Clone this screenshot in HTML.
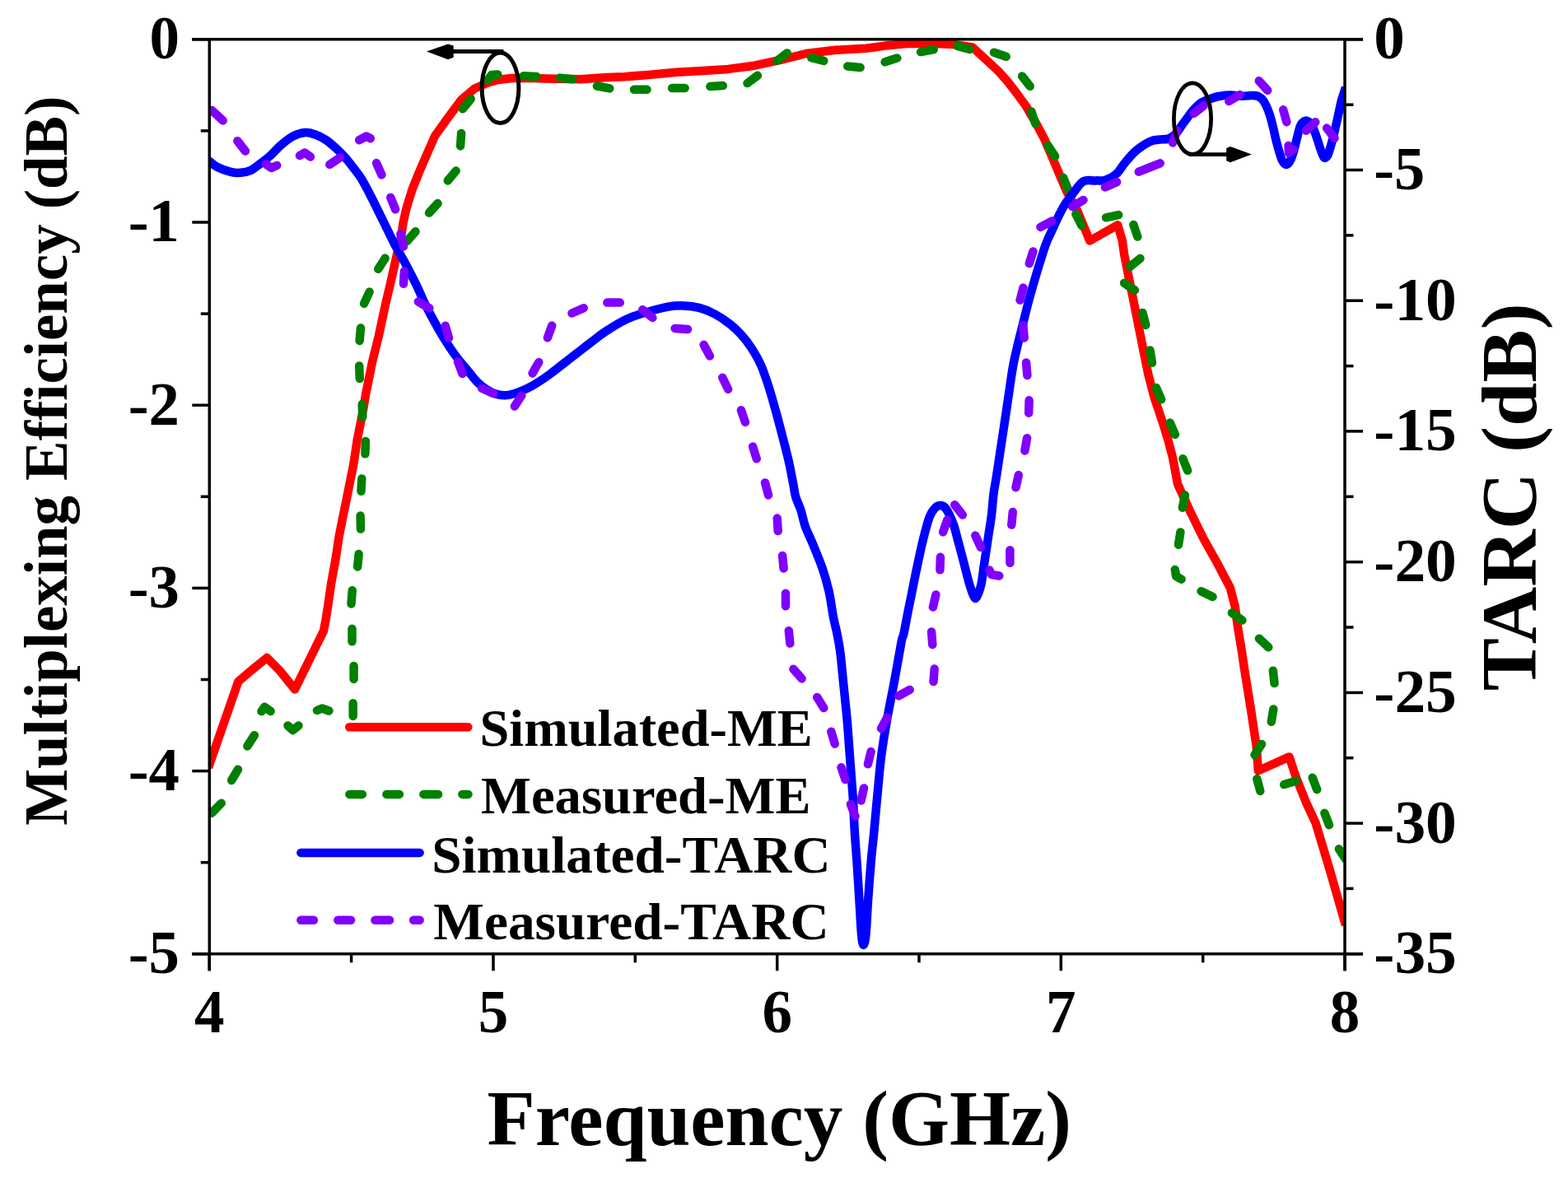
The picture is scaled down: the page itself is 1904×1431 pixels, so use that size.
<!DOCTYPE html>
<html><head><meta charset="utf-8"><title>Multiplexing Efficiency and TARC</title>
<style>html,body{margin:0;padding:0;background:#fff;}svg{display:block;}</style></head>
<body><svg width="1904" height="1431" viewBox="0 0 1904 1431"><defs><clipPath id="pa"><rect x="254.3" y="47.8" width="1378.7" height="1111.0"/></clipPath></defs><g clip-path="url(#pa)"><path d="M253.0,932.5 L289.3,828.0 L305.4,814.1 L324.1,799.0 L339.3,814.1 L358.0,837.5 L392.9,766.5 L395.5,753.4 L398.2,736.0 L402.3,707.9 L407.3,680.8 L411.7,651.5 L416.1,629.4 L420.6,607.4 L425.0,585.4 L429.4,563.4 L433.8,534.0 L438.2,512.0 L441.5,495.0 L444.1,479.1 L452.2,438.9 L460.2,406.7 L467.0,374.5 L474.5,342.4 L482.5,307.0 L487.0,288.0 L489.6,270.5 L493.0,255.0 L496.5,243.0 L500.7,229.8 L508.7,209.8 L518.5,187.0 L528.2,165.0 L544.3,142.5 L560.4,121.0 L576.4,107.5 L592.5,100.5 L605.0,97.0 L621.0,95.0 L640.0,94.8 L663.0,95.5 L705.0,96.2 L737.0,94.0 L758.0,93.2 L790.0,90.7 L821.5,87.8 L853.0,86.0 L884.5,83.9 L916.0,79.7 L947.6,72.8 L979.1,65.0 L1014.7,60.8 L1051.6,58.8 L1074.7,55.6 L1103.6,52.8 L1141.8,53.2 L1158.0,54.0 L1181.0,57.5 L1200.0,75.0 L1212.4,86.5 L1223.5,99.0 L1234.7,113.5 L1245.9,129.0 L1257.1,148.0 L1268.3,169.0 L1274.7,184.0 L1285.0,208.4 L1295.0,232.0 L1308.4,256.4 L1315.8,274.5 L1323.3,292.5 L1357.2,273.3 L1362.7,292.1 L1365.2,309.4 L1371.0,338.6 L1376.9,367.7 L1382.7,396.9 L1388.5,426.0 L1394.4,455.2 L1402.1,484.3 L1411.9,513.5 L1418.5,535.0 L1424.0,556.0 L1430.0,588.0 L1446.0,623.0 L1461.5,654.5 L1478.0,684.0 L1494.0,714.5 L1499.7,736.9 L1502.9,761.0 L1507.7,790.0 L1511.0,812.4 L1519.4,864.9 L1525.7,906.8 L1527.8,936.2 L1565.5,919.4 L1573.9,944.6 L1586.5,976.1 L1597.5,999.5 L1614.5,1056.0 L1634.0,1124.0" fill="none" stroke="#ff0000" stroke-width="10.5" stroke-linejoin="round"/><path d="M257.1,987.7 L268.8,975.7 M281.1,948.0 L289.0,934.7 M300.4,906.4 L308.9,893.2 M317.5,864.1 L321.3,858.8 L328.6,864.0 M349.5,881.5 L355.7,887.0 L362.5,881.5 M385.0,863.0 L391.0,860.5 L399.4,863.5 M428.7,869.9 L428.7,854.2 M429.6,824.9 L429.6,808.9 M427.5,779.2 L427.5,763.7 M426.5,733.5 L427.8,717.3 M434.2,688.5 L435.6,673.1 M438.0,642.6 L437.6,626.6 M438.5,596.8 L439.3,581.4 M443.4,551.3 L443.9,535.9 M440.3,506.5 L439.7,491.1 M436.8,459.9 L436.2,444.4 M436.6,414.0 L438.0,398.6 M442.1,368.7 L448.6,354.6 M459.3,326.8 L467.6,313.7 M494.2,293.0 L504.5,281.3 M521.0,258.6 L531.5,247.1 M543.8,219.4 L553.7,207.5 M559.1,177.4 L560.1,161.9 M561.9,132.3 L571.7,120.2 M592.1,97.4 L597.0,91.0 L604.4,90.4 M635.9,92.2 L651.3,92.9 M680.0,94.6 L695.4,96.2 M724.9,104.5 L740.3,107.4 M770.0,108.8 L785.5,108.8 M816.1,107.0 L831.6,107.0 M862.4,105.1 L877.8,104.1 M907.5,101.1 L919.9,91.8 M943.5,73.9 L955.8,64.4 M985.2,70.2 L1000.3,73.9 M1029.2,80.5 L1044.6,82.0 M1074.6,75.3 L1089.3,70.6 M1118.1,63.1 L1133.7,60.2 M1162.6,55.9 L1177.5,59.9 M1207.0,63.8 L1221.7,68.8 M1241.1,92.6 L1250.7,104.8 M1252.4,135.5 L1257.3,150.2 M1272.6,176.9 L1281.1,189.9 M1291.2,215.9 L1297.0,230.3 M1306.4,260.2 L1313.4,274.0 M1343.1,264.3 L1358.2,261.1 M1376.4,273.0 L1381.3,287.6 M1384.5,314.0 L1372.5,323.7 M1365.1,343.8 L1377.9,352.4 M1387.4,379.9 L1391.3,394.9 M1396.5,425.5 L1399.0,440.8 M1403.9,470.9 L1410.1,485.2 M1420.7,513.6 L1426.9,527.9 M1436.4,557.2 L1442.1,571.6 M1438.9,601.4 L1435.9,616.7 M1433.4,646.4 L1431.0,661.7 M1426.8,692.0 L1428.1,699.9 L1434.6,703.7 M1458.6,718.3 L1472.5,724.9 M1495.9,744.4 L1508.4,753.5 M1528.9,775.7 L1540.3,786.3 M1545.8,814.7 L1547.5,830.1 M1546.3,861.4 L1543.8,876.7 M1532.0,904.0 L1523.5,917.0 M1526.3,946.1 L1530.3,961.0 M1559.2,953.1 L1574.0,948.6 M1593.7,944.7 L1599.2,959.2 M1608.4,987.7 L1613.9,1002.2 M1625.8,1031.3 L1634.4,1044.2" fill="none" stroke="#008000" stroke-width="10.5" stroke-linejoin="round" stroke-linecap="round"/><path d="M250.0,192.5 C250.8,193.1 252.4,194.5 254.8,196.3 C257.2,198.1 260.3,201.2 264.5,203.3 C268.7,205.4 275.6,207.8 280.2,208.9 C284.8,210.0 288.3,210.1 292.3,209.8 C296.3,209.5 300.4,208.9 304.4,207.0 C308.4,205.1 312.4,201.5 316.4,198.5 C320.4,195.5 324.5,192.5 328.5,188.9 C332.5,185.3 336.2,180.6 340.6,176.8 C345.0,173.0 350.1,168.5 355.1,165.9 C360.1,163.3 366.2,161.5 370.8,161.1 C375.4,160.7 378.9,162.1 382.9,163.5 C386.9,164.9 391.0,166.9 395.0,169.5 C399.0,172.1 403.0,175.6 407.0,179.2 C411.0,182.8 415.5,187.3 419.1,191.3 C422.7,195.3 425.6,199.2 428.8,203.4 C432.0,207.6 434.6,210.2 438.5,216.6 C442.4,223.0 447.8,233.4 452.2,242.0 C456.6,250.6 460.4,258.8 465.0,268.0 C469.6,277.2 474.9,288.6 479.5,297.3 C484.1,306.1 488.0,312.2 492.4,320.5 C496.8,328.8 502.2,339.2 506.0,347.0 C509.8,354.8 512.1,360.9 515.0,367.0 C517.9,373.1 520.2,377.4 523.5,383.5 C526.8,389.6 531.0,397.3 534.7,403.7 C538.4,410.1 542.2,416.0 545.9,421.6 C549.6,427.2 553.4,432.4 557.1,437.2 C560.8,442.0 564.6,446.1 568.3,450.6 C572.0,455.1 575.7,460.3 579.4,464.0 C583.1,467.7 586.9,470.6 590.6,473.0 C594.3,475.4 598.1,477.4 601.8,478.6 C605.5,479.8 609.3,480.4 613.0,480.3 C616.7,480.2 620.5,479.2 624.2,478.2 C627.9,477.1 631.6,475.6 635.3,474.0 C639.0,472.4 642.8,470.6 646.5,468.5 C650.2,466.4 654.0,464.0 657.7,461.5 C661.5,459.0 664.4,457.0 669.0,453.6 C673.6,450.2 680.0,445.0 685.2,441.0 C690.4,437.0 694.4,433.8 700.0,429.5 C705.6,425.2 712.8,419.5 718.7,415.0 C724.6,410.5 728.6,407.0 735.6,402.5 C742.6,398.0 752.4,391.7 760.8,387.8 C769.2,383.9 777.7,381.5 786.1,379.0 C794.5,376.5 803.9,373.9 811.3,372.6 C818.6,371.3 823.9,371.2 830.2,371.4 C836.5,371.6 842.8,372.2 849.1,373.9 C855.4,375.6 861.7,378.1 868.0,381.5 C874.3,384.9 881.6,389.9 886.9,394.1 C892.2,398.3 895.8,401.9 900.0,406.5 C904.2,411.1 908.0,415.8 912.0,422.0 C916.0,428.2 920.4,435.3 924.0,443.5 C927.6,451.7 930.8,461.6 933.8,471.0 C936.8,480.4 939.4,489.9 942.2,500.0 C945.0,510.1 948.0,521.8 950.6,531.8 C953.2,541.8 955.5,550.4 957.6,559.7 C959.7,569.0 961.8,580.4 963.2,587.6 C964.6,594.8 964.5,597.6 966.0,603.0 C967.5,608.4 970.5,613.8 972.5,620.0 C974.5,626.2 975.5,633.0 978.0,640.0 C980.5,647.0 984.1,653.7 987.5,662.0 C990.9,670.3 995.3,680.7 998.5,690.0 C1001.7,699.3 1004.2,708.0 1006.5,718.0 C1008.8,728.0 1010.3,741.3 1012.0,750.0 C1013.7,758.7 1015.2,763.3 1016.5,770.0 C1017.8,776.7 1019.0,783.0 1020.0,790.0 C1021.0,797.0 1021.5,803.2 1022.4,812.2 C1023.3,821.2 1024.5,833.6 1025.6,844.3 C1026.7,855.0 1027.9,865.8 1028.8,876.5 C1029.7,887.2 1030.4,898.0 1031.2,908.7 C1032.0,919.4 1032.8,930.1 1033.6,940.8 C1034.4,951.5 1035.3,961.5 1036.0,973.0 C1036.7,984.5 1037.0,997.6 1037.8,1010.0 C1038.5,1022.4 1039.5,1033.3 1040.5,1047.5 C1041.5,1061.7 1042.6,1080.4 1043.5,1095.0 C1044.4,1109.6 1045.2,1126.2 1046.0,1135.0 C1046.8,1143.8 1047.6,1148.0 1048.5,1148.0 C1049.4,1148.0 1050.6,1143.8 1051.5,1135.0 C1052.4,1126.2 1053.0,1109.6 1054.0,1095.0 C1055.0,1080.4 1056.4,1061.7 1057.6,1047.5 C1058.8,1033.3 1060.1,1023.8 1061.4,1009.8 C1062.7,995.8 1064.1,979.1 1065.6,963.8 C1067.1,948.5 1068.2,933.2 1070.2,917.9 C1072.2,902.6 1074.8,887.2 1077.5,871.9 C1080.2,856.6 1083.5,841.3 1086.3,826.0 C1089.1,810.7 1092.7,789.4 1094.5,780.0 C1096.3,770.6 1096.2,775.5 1097.4,769.8 C1098.7,764.1 1100.5,753.7 1102.0,746.0 C1103.5,738.3 1104.5,733.6 1106.5,723.8 C1108.5,714.0 1111.4,698.7 1113.9,687.1 C1116.4,675.5 1118.8,663.8 1121.3,654.0 C1123.8,644.2 1126.3,634.3 1128.6,628.2 C1130.9,622.1 1132.8,619.9 1135.0,617.5 C1137.2,615.1 1139.5,614.2 1141.5,614.0 C1143.5,613.8 1145.2,614.2 1147.0,616.0 C1148.8,617.8 1150.6,620.8 1152.5,624.6 C1154.4,628.4 1156.8,633.8 1158.5,639.0 C1160.2,644.2 1161.5,650.6 1163.0,656.0 C1164.5,661.4 1165.7,665.8 1167.2,671.5 C1168.7,677.2 1170.4,683.8 1172.0,690.0 C1173.6,696.2 1175.3,703.4 1177.0,709.0 C1178.7,714.6 1180.6,720.7 1182.0,723.5 C1183.4,726.3 1184.0,728.1 1185.5,726.0 C1187.0,723.9 1189.8,716.7 1191.3,710.6 C1192.8,704.5 1193.4,696.6 1194.4,689.6 C1195.5,682.6 1196.5,675.6 1197.6,668.6 C1198.6,661.6 1199.7,654.7 1200.7,647.7 C1201.8,640.7 1202.9,634.7 1203.9,626.7 C1204.9,618.8 1205.5,607.9 1206.5,600.0 C1207.5,592.1 1208.7,587.2 1209.9,579.3 C1211.1,571.4 1212.6,561.6 1213.9,552.7 C1215.2,543.9 1216.6,535.1 1217.9,526.2 C1219.2,517.4 1220.6,508.5 1221.9,499.6 C1223.2,490.8 1224.5,482.0 1225.8,473.1 C1227.1,464.2 1228.3,454.9 1229.8,446.5 C1231.3,438.1 1233.0,430.8 1234.8,423.0 C1236.6,415.2 1238.0,409.9 1240.5,400.0 C1243.0,390.1 1246.4,375.7 1249.7,363.5 C1253.0,351.3 1256.9,338.1 1260.3,326.8 C1263.7,315.6 1267.3,304.0 1270.2,296.0 C1273.1,288.0 1275.2,284.9 1277.9,278.9 C1280.7,272.9 1284.0,265.3 1286.7,260.0 C1289.4,254.7 1291.1,251.4 1294.0,247.0 C1296.9,242.6 1300.4,237.9 1304.0,233.4 C1307.6,228.9 1311.4,222.5 1315.8,220.2 C1320.2,217.9 1326.0,219.7 1330.4,219.4 C1334.8,219.2 1338.0,220.0 1342.2,218.7 C1346.4,217.4 1351.5,214.8 1355.4,211.4 C1359.3,208.0 1362.0,202.6 1365.7,198.2 C1369.4,193.8 1373.5,188.6 1377.4,184.9 C1381.3,181.2 1385.5,178.3 1389.1,176.0 C1392.7,173.7 1395.8,172.1 1399.0,171.0 C1402.2,169.9 1405.2,169.9 1408.5,169.5 C1411.8,169.1 1415.7,169.8 1419.0,168.5 C1422.3,167.2 1425.5,164.6 1428.2,161.8 C1430.9,159.0 1433.0,155.1 1435.4,151.8 C1437.8,148.5 1440.3,145.0 1442.7,141.8 C1445.1,138.6 1447.3,135.6 1450.0,132.7 C1452.7,129.8 1455.7,126.6 1459.0,124.5 C1462.3,122.4 1466.3,121.3 1470.0,120.0 C1473.7,118.7 1476.8,117.5 1480.9,116.8 C1485.0,116.0 1490.0,115.5 1494.5,115.5 C1499.0,115.5 1503.8,116.7 1508.1,116.8 C1512.3,116.9 1516.7,116.0 1520.0,116.0 C1523.3,116.0 1525.3,115.8 1527.7,117.0 C1530.1,118.2 1532.3,119.4 1534.6,123.0 C1536.9,126.6 1539.7,133.3 1541.5,138.4 C1543.3,143.5 1544.4,148.7 1545.7,153.8 C1547.0,158.9 1547.9,164.0 1549.2,169.1 C1550.5,174.2 1552.1,180.2 1553.4,184.5 C1554.7,188.8 1555.7,192.4 1557.0,195.0 C1558.3,197.6 1560.0,199.8 1561.5,200.0 C1563.0,200.2 1564.6,198.7 1566.0,196.5 C1567.4,194.3 1568.6,191.5 1570.0,187.0 C1571.4,182.5 1573.1,175.0 1574.5,169.5 C1575.9,164.0 1577.2,157.5 1578.5,154.0 C1579.8,150.5 1580.7,149.8 1582.0,148.5 C1583.3,147.2 1584.5,146.1 1586.3,146.5 C1588.0,146.9 1590.5,147.8 1592.5,151.0 C1594.5,154.2 1596.6,160.8 1598.5,166.0 C1600.4,171.2 1602.1,177.8 1603.7,182.0 C1605.3,186.2 1606.5,190.3 1607.9,191.5 C1609.3,192.7 1611.0,190.4 1612.0,189.0 C1613.0,187.6 1613.0,187.3 1614.2,183.2 C1615.4,179.1 1617.7,171.4 1619.4,164.4 C1621.2,157.4 1623.1,148.4 1624.7,141.3 C1626.3,134.2 1627.8,126.5 1628.9,122.0 C1630.0,117.5 1630.7,116.7 1631.5,114.0 C1632.3,111.3 1633.6,107.3 1634.0,106.0" fill="none" stroke="#0000ff" stroke-width="10.5" stroke-linejoin="round"/><path d="M257.3,134.1 L270.7,146.4 M288.4,171.2 L297.9,183.5 M322.8,199.4 L329.5,204.0 L336.2,200.9 M364.0,189.0 L370.0,185.5 L377.0,190.5 M400.3,199.8 L413.2,191.2 M436.2,170.2 L445.0,165.5 L449.8,168.2 M457.1,198.1 L463.4,212.4 M474.3,239.9 L480.1,254.3 M486.4,284.3 L489.9,299.5 M490.9,329.4 L490.0,344.8 M507.9,366.5 L521.3,374.3 M540.7,395.7 L545.0,410.5 M556.0,439.4 L561.5,454.0 M585.2,471.8 L599.4,478.1 M624.9,493.5 L633.4,480.5 M646.6,453.4 L654.3,440.0 M664.9,410.2 L670.2,395.6 M694.5,380.5 L708.7,374.2 M737.3,367.6 L752.8,367.6 M780.3,376.3 L792.4,386.0 M819.6,398.9 L835.0,400.0 M854.6,418.8 L861.9,432.4 M877.3,458.8 L884.1,472.7 M899.9,498.2 L904.9,512.9 M914.1,542.5 L918.7,557.3 M929.0,586.4 L933.0,601.4 M943.7,629.6 L944.7,645.1 M950.1,675.0 L951.6,690.5 M954.0,720.8 L954.0,736.2 M957.8,766.2 L959.3,781.6 M963.4,812.8 L973.6,824.4 M992.2,847.0 L1000.3,860.1 M1009.3,888.7 L1013.7,903.6 M1021.5,932.3 L1026.5,947.0 M1032.9,977.0 L1038.4,991.5 M1045.6,972.5 L1049.0,957.4 M1053.9,928.2 L1057.6,913.1 M1070.0,885.0 L1077.5,871.4 M1091.1,845.3 L1104.7,837.9 M1133.5,828.1 L1134.7,812.6 M1132.3,783.0 L1131.1,767.5 M1132.9,737.5 L1136.4,722.4 M1141.4,692.3 L1141.9,676.8 M1145.1,646.3 L1150.2,631.7 M1159.3,613.2 L1168.8,625.5 M1184.3,650.6 L1190.9,664.7 M1201.4,692.5 L1204.0,698.0 L1213.3,699.5 M1226.4,683.8 L1226.4,668.2 M1228.3,637.6 L1229.8,622.1 M1233.5,592.2 L1236.8,577.1 M1244.4,547.5 L1247.1,532.2 M1249.2,501.7 L1249.6,486.3 M1247.4,456.0 L1246.1,440.5 M1243.7,410.4 L1242.4,394.9 M1238.6,364.6 L1242.5,349.6 M1249.8,320.1 L1254.5,305.4 M1263.5,275.9 L1277.2,268.6 M1302.1,251.0 L1315.5,243.0 M1341.9,227.4 L1356.1,221.1 M1382.8,208.7 L1408.7,198.3 M1424.0,173.4 L1429.3,158.9 M1449.6,138.0 L1461.7,128.3 M1492.3,123.0 L1505.7,115.1 M1528.8,98.2 L1539.2,109.8 M1558.2,133.3 L1562.3,148.2 M1564.5,177.0 L1565.0,186.0 L1570.5,181.5 M1585.9,158.7 L1597.3,148.3 M1611.1,155.6 L1620.5,167.9" fill="none" stroke="#8000ff" stroke-width="10.5" stroke-linejoin="round" stroke-linecap="round"/></g><g stroke="#000" stroke-width="3.5"><line x1="233.3" y1="47.8" x2="1655.0" y2="47.8"/><line x1="233.3" y1="1158.8" x2="1655.0" y2="1158.8"/><line x1="254.3" y1="46.199999999999996" x2="254.3" y2="1179.3"/><line x1="1633.0" y1="46.199999999999996" x2="1633.0" y2="1179.3"/><line x1="233.3" y1="47.8" x2="254.3" y2="47.8"/><line x1="243.8" y1="158.9" x2="254.3" y2="158.9"/><line x1="233.3" y1="270.0" x2="254.3" y2="270.0"/><line x1="243.8" y1="381.1" x2="254.3" y2="381.1"/><line x1="233.3" y1="492.2" x2="254.3" y2="492.2"/><line x1="243.8" y1="603.3" x2="254.3" y2="603.3"/><line x1="233.3" y1="714.4" x2="254.3" y2="714.4"/><line x1="243.8" y1="825.5" x2="254.3" y2="825.5"/><line x1="233.3" y1="936.6" x2="254.3" y2="936.6"/><line x1="243.8" y1="1047.7" x2="254.3" y2="1047.7"/><line x1="233.3" y1="1158.8" x2="254.3" y2="1158.8"/><line x1="1633.0" y1="47.8" x2="1655.0" y2="47.8"/><line x1="1633.0" y1="127.2" x2="1643.5" y2="127.2"/><line x1="1633.0" y1="206.5" x2="1655.0" y2="206.5"/><line x1="1633.0" y1="285.9" x2="1643.5" y2="285.9"/><line x1="1633.0" y1="365.2" x2="1655.0" y2="365.2"/><line x1="1633.0" y1="444.6" x2="1643.5" y2="444.6"/><line x1="1633.0" y1="523.9" x2="1655.0" y2="523.9"/><line x1="1633.0" y1="603.3" x2="1643.5" y2="603.3"/><line x1="1633.0" y1="682.7" x2="1655.0" y2="682.7"/><line x1="1633.0" y1="762.0" x2="1643.5" y2="762.0"/><line x1="1633.0" y1="841.4" x2="1655.0" y2="841.4"/><line x1="1633.0" y1="920.7" x2="1643.5" y2="920.7"/><line x1="1633.0" y1="1000.1" x2="1655.0" y2="1000.1"/><line x1="1633.0" y1="1079.4" x2="1643.5" y2="1079.4"/><line x1="1633.0" y1="1158.8" x2="1655.0" y2="1158.8"/><line x1="254.3" y1="1158.8" x2="254.3" y2="1179.3"/><line x1="426.6" y1="1158.8" x2="426.6" y2="1169.3"/><line x1="599.0" y1="1158.8" x2="599.0" y2="1179.3"/><line x1="771.3" y1="1158.8" x2="771.3" y2="1169.3"/><line x1="943.7" y1="1158.8" x2="943.7" y2="1179.3"/><line x1="1116.0" y1="1158.8" x2="1116.0" y2="1169.3"/><line x1="1288.3" y1="1158.8" x2="1288.3" y2="1179.3"/><line x1="1460.7" y1="1158.8" x2="1460.7" y2="1169.3"/><line x1="1633.0" y1="1158.8" x2="1633.0" y2="1179.3"/></g><ellipse cx="607.5" cy="106.8" rx="22.4" ry="42.8" fill="none" stroke="#000" stroke-width="5"/><line x1="545" y1="62.6" x2="611.5" y2="62.6" stroke="#000" stroke-width="5"/><path d="M518,62.6 L544,53.4 L550.7,55.5 L550.7,69.7 L544,72.2 Z" fill="#000"/><ellipse cx="1448" cy="144.2" rx="22.6" ry="43.4" fill="none" stroke="#000" stroke-width="4.8"/><line x1="1444" y1="187.6" x2="1495" y2="187.6" stroke="#000" stroke-width="4.8"/><path d="M1519.9,187.6 L1494,178 L1489.2,180 L1489.2,195.2 L1494,197.2 Z" fill="#000"/><path d="M424.25,883.3 L568.35,883.3" stroke="#ff0000" stroke-width="10.5" stroke-linecap="round"/><path d="M424.35,964.9 L439.95,964.9 M469.35,964.9 L484.95,964.9 M514.35,964.9 L532.15,964.9 M561.35,964.9 L568.55,964.9" stroke="#008000" stroke-width="10.5" stroke-linecap="round"/><path d="M365.35,1035.9 L509.65,1035.9" stroke="#0000ff" stroke-width="10.5" stroke-linecap="round"/><path d="M365.35,1117.7 L380.95,1117.7 M410.35,1117.7 L426.05,1117.7 M455.45,1117.7 L473.05,1117.7 M502.15,1117.7 L509.65,1117.7" stroke="#8000ff" stroke-width="10.5" stroke-linecap="round"/><text x="582.5" y="906.3" font-size="64.4" textLength="404.1" lengthAdjust="spacingAndGlyphs" font-family="'Liberation Serif','Times New Roman',serif" font-weight="bold">Simulated-ME</text><text x="584" y="988.3" font-size="64.4" textLength="400.5" lengthAdjust="spacingAndGlyphs" font-family="'Liberation Serif','Times New Roman',serif" font-weight="bold">Measured-ME</text><text x="524.2" y="1059.6" font-size="64.4" textLength="484.3" lengthAdjust="spacingAndGlyphs" font-family="'Liberation Serif','Times New Roman',serif" font-weight="bold">Simulated-TARC</text><text x="526.2" y="1141.1" font-size="64.4" textLength="480.5" lengthAdjust="spacingAndGlyphs" font-family="'Liberation Serif','Times New Roman',serif" font-weight="bold">Measured-TARC</text><text x="218" y="71.1" text-anchor="end" font-size="73" textLength="36.5" lengthAdjust="spacingAndGlyphs" font-family="'Liberation Serif','Times New Roman',serif" font-weight="bold">0</text><text x="218" y="293.3" text-anchor="end" font-size="73" textLength="62.3" lengthAdjust="spacingAndGlyphs" font-family="'Liberation Serif','Times New Roman',serif" font-weight="bold">-1</text><text x="218" y="515.5" text-anchor="end" font-size="73" textLength="62.3" lengthAdjust="spacingAndGlyphs" font-family="'Liberation Serif','Times New Roman',serif" font-weight="bold">-2</text><text x="218" y="737.7" text-anchor="end" font-size="73" textLength="62.3" lengthAdjust="spacingAndGlyphs" font-family="'Liberation Serif','Times New Roman',serif" font-weight="bold">-3</text><text x="218" y="959.9" text-anchor="end" font-size="73" textLength="62.3" lengthAdjust="spacingAndGlyphs" font-family="'Liberation Serif','Times New Roman',serif" font-weight="bold">-4</text><text x="218" y="1182.1" text-anchor="end" font-size="73" textLength="62.3" lengthAdjust="spacingAndGlyphs" font-family="'Liberation Serif','Times New Roman',serif" font-weight="bold">-5</text><text x="1668.3" y="71.3" font-size="73" textLength="37.5" lengthAdjust="spacingAndGlyphs" font-family="'Liberation Serif','Times New Roman',serif" font-weight="bold">0</text><text x="1668.3" y="230.0" font-size="73" textLength="62" lengthAdjust="spacingAndGlyphs" font-family="'Liberation Serif','Times New Roman',serif" font-weight="bold">-5</text><text x="1668.3" y="388.7" font-size="73" textLength="100.5" lengthAdjust="spacingAndGlyphs" font-family="'Liberation Serif','Times New Roman',serif" font-weight="bold">-10</text><text x="1668.3" y="547.4" font-size="73" textLength="100.5" lengthAdjust="spacingAndGlyphs" font-family="'Liberation Serif','Times New Roman',serif" font-weight="bold">-15</text><text x="1668.3" y="706.2" font-size="73" textLength="100.5" lengthAdjust="spacingAndGlyphs" font-family="'Liberation Serif','Times New Roman',serif" font-weight="bold">-20</text><text x="1668.3" y="864.9" font-size="73" textLength="100.5" lengthAdjust="spacingAndGlyphs" font-family="'Liberation Serif','Times New Roman',serif" font-weight="bold">-25</text><text x="1668.3" y="1023.6" font-size="73" textLength="100.5" lengthAdjust="spacingAndGlyphs" font-family="'Liberation Serif','Times New Roman',serif" font-weight="bold">-30</text><text x="1668.3" y="1182.3" font-size="73" textLength="100.5" lengthAdjust="spacingAndGlyphs" font-family="'Liberation Serif','Times New Roman',serif" font-weight="bold">-35</text><text x="254.3" y="1253.5" text-anchor="middle" font-size="73" font-family="'Liberation Serif','Times New Roman',serif" font-weight="bold">4</text><text x="599.0" y="1253.5" text-anchor="middle" font-size="73" font-family="'Liberation Serif','Times New Roman',serif" font-weight="bold">5</text><text x="943.7" y="1253.5" text-anchor="middle" font-size="73" font-family="'Liberation Serif','Times New Roman',serif" font-weight="bold">6</text><text x="1288.3" y="1253.5" text-anchor="middle" font-size="73" font-family="'Liberation Serif','Times New Roman',serif" font-weight="bold">7</text><text x="1633.0" y="1253.5" text-anchor="middle" font-size="73" font-family="'Liberation Serif','Times New Roman',serif" font-weight="bold">8</text><text transform="translate(80.6,1002.8) rotate(-90)" font-size="74.7" textLength="886.2" lengthAdjust="spacingAndGlyphs" font-family="'Liberation Serif','Times New Roman',serif" font-weight="bold">Multiplexing Efficiency (dB)</text><text transform="translate(1865.3,839.2) rotate(-90)" font-size="95" textLength="470.9" lengthAdjust="spacingAndGlyphs" font-family="'Liberation Serif','Times New Roman',serif" font-weight="bold">TARC (dB)</text><text x="591.5" y="1390.5" font-size="94.3" textLength="709.5" lengthAdjust="spacingAndGlyphs" font-family="'Liberation Serif','Times New Roman',serif" font-weight="bold">Frequency (GHz)</text></svg></body></html>
